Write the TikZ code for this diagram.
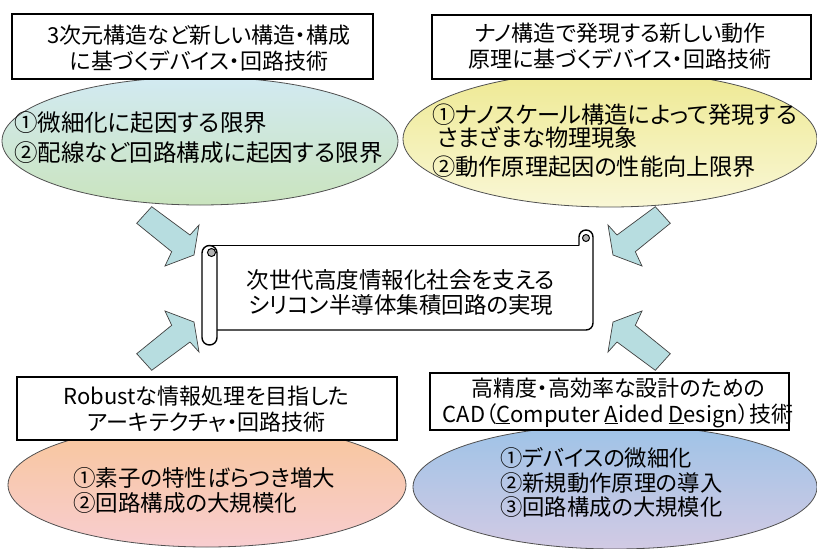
\documentclass[tikz,border=0pt]{standalone}
\usepackage{fontspec}
\setmainfont[RawFeature=+palt]{Noto Sans CJK JP}
\usetikzlibrary{shapes.geometric}
\definecolor{ellline}{HTML}{505050}
\definecolor{arrowfill}{HTML}{B7DDE0}
\definecolor{arrowline}{HTML}{404040}
\definecolor{tlTop}{HTML}{D2EAF2}
\definecolor{tlBot}{HTML}{CAE4BE}
\definecolor{trTop}{HTML}{EEE992}
\definecolor{trBot}{HTML}{F9F7D6}
\definecolor{blTop}{HTML}{F8C69A}
\definecolor{blBot}{HTML}{F8CDD0}
\definecolor{brTop}{HTML}{9EC3E7}
\definecolor{brBot}{HTML}{D2CAE4}
\begin{document}
\begin{tikzpicture}[x=1pt,y=-1pt,
  ell/.style={ellipse, draw=ellline, line width=0.8pt, inner sep=0pt},
  boxst/.style={rectangle, draw=black, line width=1.4pt, fill=white, inner sep=0pt},
  txt/.style={inner sep=0pt, align=center, font=\fontsize{22}{26}\selectfont},
  etxt/.style={inner sep=0pt, align=left, anchor=west},
  barrow/.style={fill=arrowfill, draw=arrowline, line width=0.7pt, line join=miter},
  scrollline/.style={draw=black, line width=1.4pt, line join=round}]
\useasboundingbox (0,0) rectangle (817,549);

% ellipses
\node[ell, top color=tlTop, bottom color=tlBot, minimum width=396pt, minimum height=128pt] (e1) at (200,141) {};
\node[ell, top color=trTop, bottom color=trBot, minimum width=414pt, minimum height=136pt] (e2) at (610,139) {};
\node[ell, top color=blTop, bottom color=blBot, minimum width=398pt, minimum height=124pt] (e3) at (207,485) {};
\node[ell, top color=brTop, bottom color=brBot, minimum width=404pt, minimum height=124pt] (e4) at (615,487) {};

% boxes
\node[boxst, minimum width=361pt, minimum height=65pt] (b1) at (192.5,46.5) {};
\node[boxst, minimum width=379pt, minimum height=64pt] (b2) at (621.5,47) {};
\node[boxst, minimum width=380pt, minimum height=63pt] (b3) at (207,408.5) {};
\node[boxst, minimum width=359pt, minimum height=57pt] (b4) at (609.5,401.5) {};

\node[txt] (t1) at (199,48.5) {3次元構造など新しい構造・構成\\に基づくデバイス・回路技術};
\node[txt] (t2) at (620,46.5) {ナノ構造で発現する新しい動作\\原理に基づくデバイス・回路技術};
\node[txt] (t3) at (206.5,409.5) {Robustな情報処理を目指した\\アーキテクチャ・回路技術};
\node[txt] (t4) at (618,402.5) {高精度・高効率な設計のための\\CAD（\underline{C}omputer \underline{A}ided \underline{D}esign）技術};

% ellipse texts
\node[etxt, font=\fontsize{23.5}{30}\selectfont] (et1) at (14,138) {①微細化に起因する限界\\②配線など回路構成に起因する限界};
\node[etxt, font=\fontsize{23.2}{21}\selectfont] (et2) at (432,141) {①ナノスケール構造によって発現する\\\hspace*{5pt}さまざまな物理現象\\[6pt]②動作原理起因の性能向上限界};
\node[etxt, font=\fontsize{22.5}{25}\selectfont] (et3) at (73,490.5) {①素子の特性ばらつき増大\\②回路構成の大規模化};
\node[etxt, font=\fontsize{22.3}{24.5}\selectfont] (et4) at (500,482.5) {①デバイスの微細化\\②新規動作原理の導入\\③回路構成の大規模化};

% block arrows
\newcommand{\blockarrowpath}{(136.7,223.3) -- (151.7,206.7) -- (190,235) -- (199,225) -- (194,255) -- (165,266) -- (171.7,251.7) -- cycle}
\path[barrow] \blockarrowpath;
\begin{scope}[shift={(807,0)}, xscale=-1]
  \path[barrow] \blockarrowpath;
\end{scope}
\begin{scope}[shift={(0,577)}, yscale=-1]
  \path[barrow] \blockarrowpath;
\end{scope}
\begin{scope}[shift={(807,577)}, xscale=-1, yscale=-1]
  \path[barrow] \blockarrowpath;
\end{scope}

% scroll
\fill[white] (209.5,245.5) -- (579,245.5) -- (579,237) -- (593,237) -- (593,330) -- (217,330) -- cycle;
\draw[scrollline] (209.5,245.5) -- (579,245.5);
\draw[scrollline] (579,245.5) -- (579,237) arc[start angle=180, end angle=0, radius=7pt] -- (593,323) arc[start angle=0, end angle=-90, radius=7pt] -- (217,330);
\fill[gray!60] (586,238) circle[radius=3.5pt];
\draw[black, line width=1pt] (586,238) circle[radius=3.5pt];
\draw[scrollline, fill=white, rounded corners=7.5pt] (202,245.5) rectangle (217,345);
\fill[gray!60] (211.5,252.5) circle[radius=4pt];
\draw[black, line width=1pt] (211.5,252.5) circle[radius=4pt];
\node[txt, font=\fontsize{22.5}{25}\selectfont] (c) at (401,292.5) {次世代高度情報化社会を支える\\シリコン半導体集積回路の実現};
\end{tikzpicture}
\end{document}
